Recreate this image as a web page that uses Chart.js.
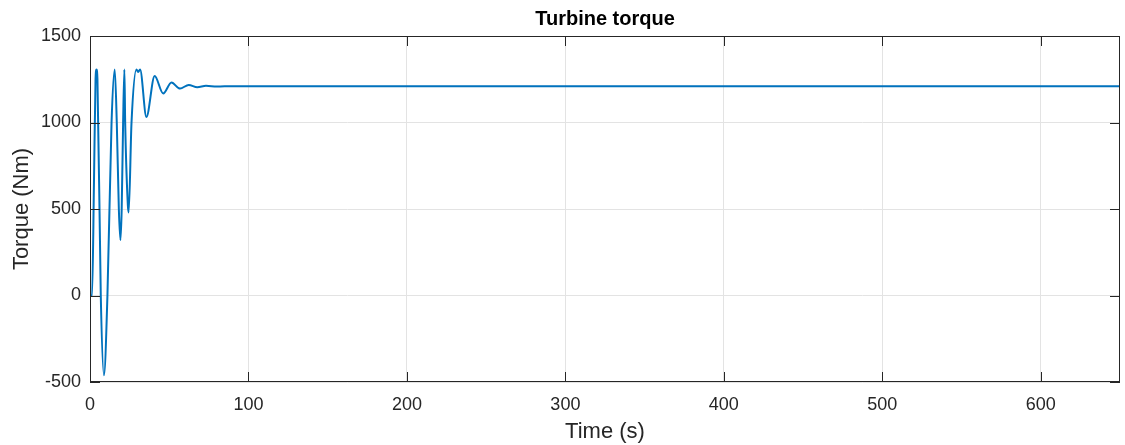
<!DOCTYPE html>
<html>
<head>
<meta charset="utf-8">
<script src="https://cdn.jsdelivr.net/npm/chart.js@4.4.0/dist/chart.umd.min.js"></script>
<style>
    html, body { margin: 0; padding: 0; background: #fff; }
    #wrap { width: 1125px; height: 445px; }
</style>
</head>
<body>
<div id="wrap"><canvas id="torqueChart"></canvas></div>
<script>
// datos
var tiempo = [0, 1.3, 2.5, 3.5, 4.1, 4.7, 6.8, 8.8, 11.0, 13.6, 15.6, 16.9, 18.2, 19.2, 20.0, 20.9, 21.7, 22.2, 23.9, 24.4, 26.2, 29.3, 30.4, 31.6, 35.6, 40.8, 46.2, 51.4, 56.8, 62.3, 67.7, 73.2, 80, 90, 650];
var torque = [0, 0, 650, 1250, 1306, 1250, 0, -461, 0, 1000, 1306, 1000, 500, 320, 500, 1000, 1306, 1000, 520, 480, 1000, 1306, 1292, 1306, 1032, 1269, 1168, 1231, 1196, 1217, 1204, 1212, 1208, 1210, 1210];
var ticksX = [0, 100, 200, 300, 400, 500, 600];
var ticksY = [-500, 0, 500, 1000, 1500];

var colorEjes = '#262626';
var fuente = '"Liberation Sans", Arial, sans-serif';

document.addEventListener("DOMContentLoaded", function(){
    graficarTorque();
});

function graficarTorque(){
    var ctx = document.getElementById('torqueChart').getContext('2d');

    var puntos = [];
    for(var i = 0; i < tiempo.length; i++){
        puntos.push({x: tiempo[i], y: torque[i]});
    }

    // marcas hacia dentro, caja y titulo al estilo MATLAB
    var estiloMatlab = {
        id: 'estiloMatlab',
        afterDraw: function(chart){
            var c = chart.ctx;
            var a = chart.chartArea;
            var sx = chart.scales.x;
            var sy = chart.scales.y;
            var largo = 10;
            c.save();
            c.strokeStyle = colorEjes;
            c.lineWidth = 1;
            c.beginPath();
            ticksX.forEach(function(v){
                var px = Math.round(sx.getPixelForValue(v)) + 0.5;
                c.moveTo(px, a.bottom); c.lineTo(px, a.bottom - largo);
                c.moveTo(px, a.top); c.lineTo(px, a.top + largo);
            });
            ticksY.forEach(function(v){
                var py = Math.round(sy.getPixelForValue(v)) + 0.5;
                c.moveTo(a.left, py); c.lineTo(a.left + largo, py);
                c.moveTo(a.right, py); c.lineTo(a.right - largo, py);
            });
            c.stroke();
            c.strokeRect(Math.round(a.left) + 0.5, Math.round(a.top) + 0.5, Math.round(a.width) - 1, Math.round(a.height) - 1);

            c.fillStyle = '#000';
            c.font = 'bold 20px ' + fuente;
            c.textAlign = 'center';
            c.textBaseline = 'middle';
            c.fillText('Turbine torque', (a.left + a.right) / 2, 19);
            c.restore();
        }
    };

    var data = {
        datasets: [{
            data: puntos,
            borderColor: '#0072BD',
            borderWidth: 2,
            pointRadius: 0,
            fill: false,
            cubicInterpolationMode: 'monotone'
        }]
    };

    var options = {
        responsive: true,
        maintainAspectRatio: false,
        animation: false,
        layout: { padding: { top: 36, right: 5, left: 0, bottom: 0 } },
        plugins: {
            legend: { display: false },
            tooltip: { enabled: false },
            title: { display: false }
        },
        scales: {
            x: {
                type: 'linear',
                min: 0,
                max: 650,
                afterBuildTicks: function(s){ s.ticks = ticksX.map(function(v){ return {value: v}; }); },
                afterFit: function(s){ s.height = 63; },
                ticks: {
                    color: colorEjes, padding: 12, maxRotation: 0,
                    font: { family: fuente, size: 18 },
                    callback: function(v){ return String(v); }
                },
                grid: { color: '#e3e3e3', drawTicks: false },
                border: { display: false },
                title: { display: true, text: 'Time (s)', color: colorEjes, padding: { top: 0, bottom: 0 }, font: { family: fuente, size: 22 } }
            },
            y: {
                min: -500,
                max: 1500,
                afterBuildTicks: function(s){ s.ticks = ticksY.map(function(v){ return {value: v}; }); },
                afterFit: function(s){ s.width = 90; },
                ticks: {
                    color: colorEjes, padding: 9,
                    font: { family: fuente, size: 18 },
                    callback: function(v){ return String(v); }
                },
                grid: { color: '#e3e3e3', drawTicks: false },
                border: { display: false },
                title: { display: true, text: 'Torque (Nm)', color: colorEjes, padding: { top: 9, bottom: 0 }, font: { family: fuente, size: 22 } }
            }
        }
    };

    var grafica = new Chart(ctx, {
        type: 'line',
        data: data,
        options: options,
        plugins: [estiloMatlab]
    });
}
</script>
</body>
</html>
